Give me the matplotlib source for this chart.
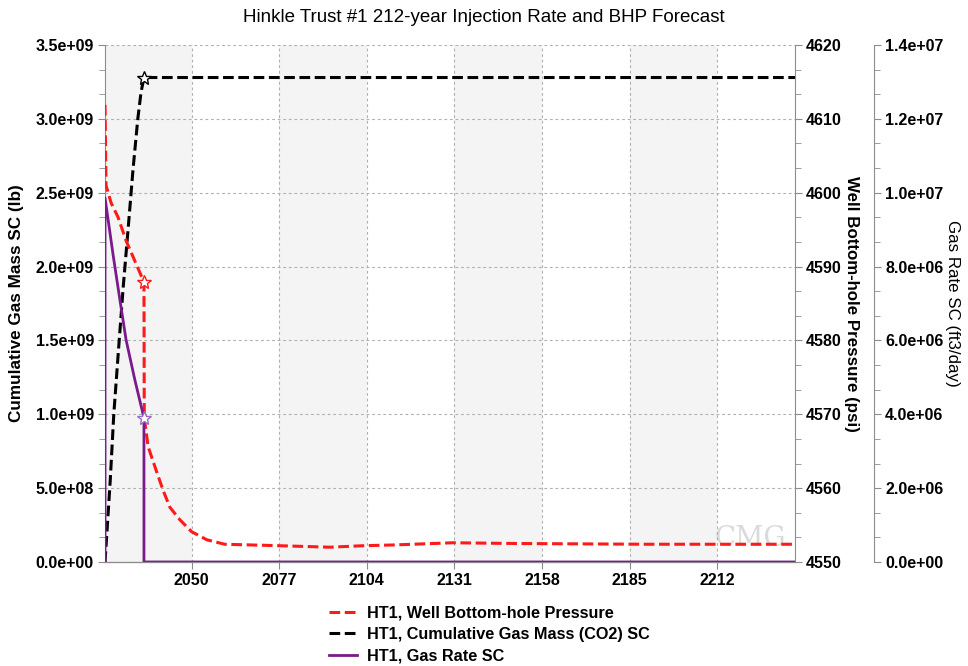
import matplotlib.pyplot as plt
from matplotlib.ticker import AutoMinorLocator, MultipleLocator, FuncFormatter
from matplotlib.lines import Line2D

plt.rcParams['font.family'] = ['Liberation Sans', 'DejaVu Sans']

# values
bhp_years = [2023.3, 2023.6, 2025.2, 2027.3, 2029.8, 2035.3, 2035.4, 2036.6, 2039.3,
             2041.2, 2043.3, 2046.4, 2050.0, 2054.7, 2060.2, 2077.2, 2092.6, 2102.8,
             2112.0, 2130.5, 2150.3, 2191.0, 2236.0]
bhp_psi = [4611.9, 4601.0, 4598.6, 4596.7, 4593.5, 4587.9, 4569.5, 4565.6, 4562.1,
           4559.7, 4557.4, 4555.7, 4554.1, 4553.0, 4552.4, 4552.2, 4552.0, 4552.2,
           4552.3, 4552.6, 4552.5, 4552.4, 4552.4]
bhp_star = 5

cum_years = [2023.3, 2024.9, 2026.0, 2027.5, 2028.9, 2030.4, 2031.9, 2033.4, 2034.4,
             2035.3, 2236.0]
cum_mass = [0.0, 0.55e9, 1.0e9, 1.45e9, 1.86e9, 2.25e9, 2.65e9, 3.0e9, 3.18e9,
            3.28e9, 3.28e9]
cum_star = 9

rate_years = [2023.3, 2023.3, 2025.8, 2027.9, 2029.8, 2032.5, 2035.3, 2035.3, 2236.0]
rate_sc = [0.0, 9.86e6, 8.31e6, 7.09e6, 6.01e6, 4.93e6, 3.90e6, 0.0, 0.0]
rate_star = 6

x_ticks = [2050, 2077, 2104, 2131, 2158, 2185, 2212]
x_start, x_end = 2023.3, 2236.0

legend_labels = ["HT1, Well Bottom-hole Pressure",
                 "HT1, Cumulative Gas Mass (CO2) SC",
                 "HT1, Gas Rate SC"]

red = '#ff1a1a'
purple = '#7a1a8c'
spine_col = '#8c8c8c'
px = 72 / 100  # points per pixel at dpi 100

fig = plt.figure(figsize=(9.68, 6.66), dpi=100)
ax = fig.add_axes([0.1085, 0.1562, 0.7128, 0.7762])
ax2 = ax.twinx()
ax3 = ax.twinx()
ax3.spines['right'].set_position(('outward', 79 * px))

# alternating background bands
edges = [x_start] + x_ticks + [x_end]
for i in range(0, len(edges) - 1, 2):
    ax.axvspan(edges[i], edges[i + 1], color='#f4f4f4', zorder=0, lw=0)

dash = (0, (3.5, 1.5))
ax.plot(cum_years, cum_mass, color='black', lw=2.2, ls=dash,
        marker='*', markevery=[cum_star], ms=10, mfc='white', mec='black', mew=1)
ax2.plot(bhp_years, bhp_psi, color=red, lw=2.2, ls=dash,
         marker='*', markevery=[bhp_star], ms=10, mfc='white', mec=red, mew=1)
ax3.plot(rate_years, rate_sc, color=purple, lw=2,
         marker='*', markevery=[rate_star], ms=10, mfc='white', mec='#9a6cc8', mew=1)

ax.set_xlim(x_start, x_end)
ax.set_ylim(0, 3.5e9)
ax2.set_ylim(4550, 4620)
ax3.set_ylim(0, 1.4e7)

ax.set_xticks(x_ticks)
ax.yaxis.set_major_locator(MultipleLocator(0.5e9))
ax2.yaxis.set_major_locator(MultipleLocator(10))
ax3.yaxis.set_major_locator(MultipleLocator(2e6))
for a in (ax, ax2, ax3):
    a.yaxis.set_minor_locator(AutoMinorLocator(3))

sci = FuncFormatter(lambda v, p: f"{v:.1e}")
ax.yaxis.set_major_formatter(sci)
ax3.yaxis.set_major_formatter(sci)

ax.grid(True, which='major', color='#b0b0b0', ls=(0, (2.5, 2.5)), lw=0.8)

for a in (ax, ax2, ax3):
    for s in a.spines.values():
        s.set_color(spine_col)
    a.spines['top'].set_visible(False)
    a.tick_params(which='both', color=spine_col, direction='out')
    a.tick_params(which='major', length=5, labelsize=11.5, pad=3)
    a.tick_params(which='minor', length=4)
    for lab in a.get_xticklabels() + a.get_yticklabels():
        lab.set_fontweight('bold')
ax2.spines['left'].set_visible(False)
ax3.spines['left'].set_visible(False)
ax.spines['right'].set_visible(False)
ax.tick_params(axis='x', which='minor', bottom=False)

ax.set_ylabel("Cumulative Gas Mass SC (lb)", fontsize=12.3, fontweight='bold',
              labelpad=8)
ax2.set_ylabel("Well Bottom-hole Pressure (psi)", fontsize=12.2, fontweight='bold',
               rotation=270, labelpad=12)
ax3.set_ylabel("Gas Rate SC (ft3/day)", fontsize=12.2, rotation=270, labelpad=12)

fig.text(0.5, 0.974, "Hinkle Trust #1 212-year Injection Rate and BHP Forecast",
         ha='center', va='center', fontsize=13.5)

ax.text(0.935, 0.045, "CMG", transform=ax.transAxes, ha='center', va='center',
        fontsize=20, color='#dadada', family='DejaVu Serif', zorder=1)

handles = [Line2D([], [], color=red, lw=2.2, ls=dash),
           Line2D([], [], color='black', lw=2.2, ls=dash),
           Line2D([], [], color=purple, lw=2)]
fig.legend(handles, legend_labels, loc='upper left', bbox_to_anchor=(0.325, 0.113),
           frameon=False, handlelength=1.7, handletextpad=0.6, labelspacing=0.4,
           prop={'size': 11.7, 'weight': 'bold'})

fig.savefig("out.png", dpi=100)
